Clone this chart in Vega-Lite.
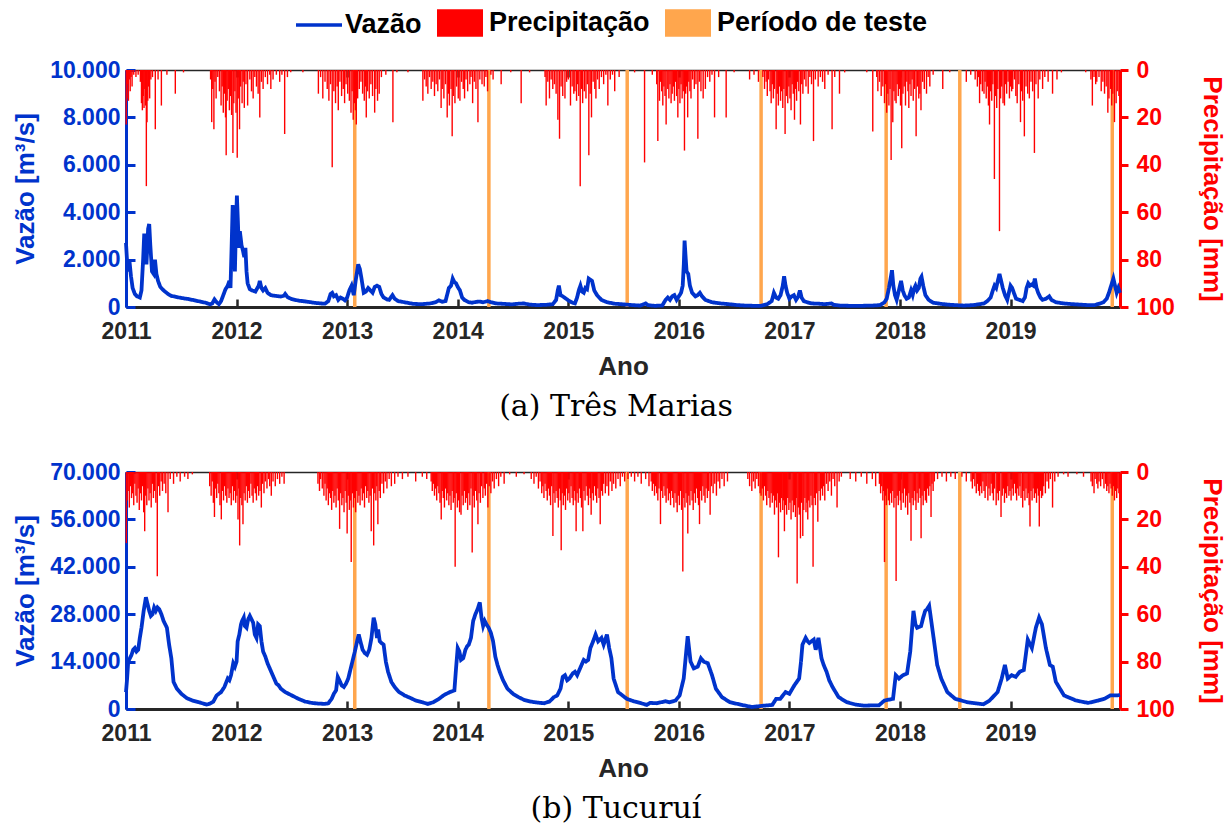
{
"$schema": "https://vega.github.io/schema/vega-lite/v6.json",
"background": "white",
"padding": {"left": 12, "top": 0, "right": 3, "bottom": 2},
"config": {"view": {"stroke": null}, "axis": {"grid": false}, "font": "Liberation Sans"},
"spacing": 39,
"datasets": {
"test": [{"t":2013.069},{"t":2014.282},{"t":2015.533},{"t":2016.744},{"t":2017.875},{"t":2018.541},{"t":2019.92}],
"fa": [
{"t":2011.0,"v":2700},{"t":2011.01,"v":1900},{"t":2011.02,"v":1500},{"t":2011.03,"v":2000},{"t":2011.045,"v":1300},{"t":2011.06,"v":800},{"t":2011.08,"v":550},{"t":2011.1,"v":450},{"t":2011.125,"v":400},{"t":2011.14,"v":700},{"t":2011.155,"v":2000},{"t":2011.165,"v":3100},{"t":2011.175,"v":2600},{"t":2011.185,"v":1800},{"t":2011.2,"v":3300},{"t":2011.21,"v":3500},{"t":2011.22,"v":2600},{"t":2011.235,"v":1500},{"t":2011.25,"v":1400},{"t":2011.262,"v":2000},{"t":2011.275,"v":1400},{"t":2011.29,"v":1100},{"t":2011.31,"v":850},{"t":2011.34,"v":700},{"t":2011.38,"v":550},{"t":2011.41,"v":470},{"t":2011.45,"v":430},{"t":2011.5,"v":380},{"t":2011.56,"v":340},{"t":2011.62,"v":280},{"t":2011.68,"v":220},{"t":2011.72,"v":180},{"t":2011.76,"v":110},{"t":2011.78,"v":150},{"t":2011.8,"v":320},{"t":2011.82,"v":200},{"t":2011.84,"v":120},{"t":2011.86,"v":250},{"t":2011.88,"v":500},{"t":2011.9,"v":750},{"t":2011.92,"v":900},{"t":2011.935,"v":1100},{"t":2011.945,"v":800},{"t":2011.955,"v":2500},{"t":2011.965,"v":4300},{"t":2011.975,"v":3000},{"t":2011.985,"v":1500},{"t":2011.995,"v":3500},{"t":2012.003,"v":4700},{"t":2012.012,"v":3600},{"t":2012.02,"v":2500},{"t":2012.03,"v":3200},{"t":2012.045,"v":2600},{"t":2012.057,"v":2400},{"t":2012.07,"v":2100},{"t":2012.08,"v":2500},{"t":2012.09,"v":1500},{"t":2012.1,"v":1000},{"t":2012.12,"v":750},{"t":2012.14,"v":700},{"t":2012.17,"v":650},{"t":2012.2,"v":900},{"t":2012.21,"v":1100},{"t":2012.225,"v":800},{"t":2012.24,"v":700},{"t":2012.26,"v":800},{"t":2012.28,"v":600},{"t":2012.31,"v":500},{"t":2012.35,"v":470},{"t":2012.4,"v":440},{"t":2012.43,"v":480},{"t":2012.44,"v":550},{"t":2012.46,"v":420},{"t":2012.5,"v":330},{"t":2012.56,"v":270},{"t":2012.63,"v":230},{"t":2012.7,"v":180},{"t":2012.76,"v":150},{"t":2012.8,"v":140},{"t":2012.83,"v":250},{"t":2012.85,"v":550},{"t":2012.865,"v":600},{"t":2012.88,"v":450},{"t":2012.9,"v":500},{"t":2012.92,"v":300},{"t":2012.94,"v":400},{"t":2012.96,"v":350},{"t":2012.98,"v":280},{"t":2013.0,"v":400},{"t":2013.02,"v":700},{"t":2013.04,"v":900},{"t":2013.06,"v":500},{"t":2013.08,"v":1200},{"t":2013.1,"v":1800},{"t":2013.115,"v":1600},{"t":2013.13,"v":1200},{"t":2013.15,"v":600},{"t":2013.17,"v":650},{"t":2013.19,"v":800},{"t":2013.21,"v":700},{"t":2013.23,"v":600},{"t":2013.25,"v":850},{"t":2013.27,"v":900},{"t":2013.29,"v":850},{"t":2013.31,"v":550},{"t":2013.33,"v":400},{"t":2013.36,"v":320},{"t":2013.38,"v":300},{"t":2013.41,"v":500},{"t":2013.43,"v":350},{"t":2013.46,"v":250},{"t":2013.52,"v":200},{"t":2013.6,"v":130},{"t":2013.68,"v":120},{"t":2013.75,"v":150},{"t":2013.8,"v":200},{"t":2013.83,"v":280},{"t":2013.86,"v":220},{"t":2013.89,"v":250},{"t":2013.92,"v":800},{"t":2013.94,"v":900},{"t":2013.955,"v":1200},{"t":2013.97,"v":1050},{"t":2013.985,"v":1000},{"t":2014.0,"v":850},{"t":2014.02,"v":700},{"t":2014.04,"v":400},{"t":2014.06,"v":300},{"t":2014.08,"v":250},{"t":2014.1,"v":200},{"t":2014.13,"v":180},{"t":2014.17,"v":220},{"t":2014.2,"v":230},{"t":2014.23,"v":200},{"t":2014.27,"v":250},{"t":2014.3,"v":200},{"t":2014.35,"v":150},{"t":2014.42,"v":130},{"t":2014.49,"v":110},{"t":2014.55,"v":140},{"t":2014.6,"v":150},{"t":2014.65,"v":100},{"t":2014.72,"v":80},{"t":2014.8,"v":90},{"t":2014.86,"v":120},{"t":2014.89,"v":300},{"t":2014.905,"v":700},{"t":2014.915,"v":900},{"t":2014.93,"v":500},{"t":2014.95,"v":450},{"t":2014.98,"v":350},{"t":2015.01,"v":250},{"t":2015.04,"v":180},{"t":2015.06,"v":150},{"t":2015.08,"v":400},{"t":2015.095,"v":700},{"t":2015.11,"v":900},{"t":2015.125,"v":650},{"t":2015.14,"v":600},{"t":2015.155,"v":800},{"t":2015.17,"v":750},{"t":2015.185,"v":1200},{"t":2015.2,"v":1150},{"t":2015.215,"v":1100},{"t":2015.235,"v":700},{"t":2015.26,"v":500},{"t":2015.3,"v":300},{"t":2015.35,"v":200},{"t":2015.42,"v":140},{"t":2015.5,"v":110},{"t":2015.58,"v":80},{"t":2015.65,"v":60},{"t":2015.7,"v":150},{"t":2015.72,"v":80},{"t":2015.78,"v":50},{"t":2015.85,"v":60},{"t":2015.88,"v":300},{"t":2015.9,"v":400},{"t":2015.92,"v":300},{"t":2015.94,"v":450},{"t":2015.96,"v":500},{"t":2015.98,"v":300},{"t":2016.0,"v":450},{"t":2016.02,"v":600},{"t":2016.035,"v":900},{"t":2016.045,"v":1800},{"t":2016.052,"v":2800},{"t":2016.06,"v":2200},{"t":2016.07,"v":1500},{"t":2016.085,"v":1400},{"t":2016.1,"v":900},{"t":2016.12,"v":600},{"t":2016.15,"v":450},{"t":2016.17,"v":500},{"t":2016.19,"v":600},{"t":2016.21,"v":450},{"t":2016.24,"v":300},{"t":2016.3,"v":200},{"t":2016.38,"v":150},{"t":2016.45,"v":120},{"t":2016.53,"v":80},{"t":2016.6,"v":60},{"t":2016.68,"v":50},{"t":2016.74,"v":50},{"t":2016.8,"v":120},{"t":2016.84,"v":250},{"t":2016.86,"v":600},{"t":2016.88,"v":400},{"t":2016.9,"v":350},{"t":2016.92,"v":500},{"t":2016.94,"v":900},{"t":2016.952,"v":1300},{"t":2016.965,"v":900},{"t":2016.98,"v":600},{"t":2017.0,"v":350},{"t":2017.02,"v":450},{"t":2017.04,"v":500},{"t":2017.06,"v":300},{"t":2017.08,"v":450},{"t":2017.095,"v":700},{"t":2017.11,"v":400},{"t":2017.13,"v":250},{"t":2017.16,"v":200},{"t":2017.2,"v":150},{"t":2017.26,"v":140},{"t":2017.32,"v":120},{"t":2017.38,"v":150},{"t":2017.4,"v":90},{"t":2017.46,"v":60},{"t":2017.55,"v":50},{"t":2017.65,"v":50},{"t":2017.75,"v":60},{"t":2017.82,"v":80},{"t":2017.86,"v":200},{"t":2017.88,"v":350},{"t":2017.9,"v":800},{"t":2017.915,"v":1200},{"t":2017.928,"v":1550},{"t":2017.94,"v":900},{"t":2017.955,"v":500},{"t":2017.97,"v":300},{"t":2017.99,"v":700},{"t":2018.0,"v":900},{"t":2018.01,"v":1100},{"t":2018.025,"v":700},{"t":2018.04,"v":500},{"t":2018.06,"v":350},{"t":2018.08,"v":400},{"t":2018.1,"v":700},{"t":2018.115,"v":500},{"t":2018.13,"v":800},{"t":2018.14,"v":900},{"t":2018.155,"v":700},{"t":2018.17,"v":800},{"t":2018.185,"v":1200},{"t":2018.195,"v":1280},{"t":2018.21,"v":900},{"t":2018.23,"v":500},{"t":2018.26,"v":300},{"t":2018.3,"v":180},{"t":2018.36,"v":140},{"t":2018.43,"v":100},{"t":2018.5,"v":80},{"t":2018.58,"v":60},{"t":2018.66,"v":80},{"t":2018.72,"v":120},{"t":2018.76,"v":150},{"t":2018.79,"v":250},{"t":2018.82,"v":400},{"t":2018.84,"v":700},{"t":2018.855,"v":900},{"t":2018.87,"v":800},{"t":2018.885,"v":1100},{"t":2018.9,"v":1400},{"t":2018.915,"v":1100},{"t":2018.93,"v":800},{"t":2018.95,"v":500},{"t":2018.97,"v":300},{"t":2018.985,"v":600},{"t":2019.0,"v":900},{"t":2019.015,"v":800},{"t":2019.03,"v":600},{"t":2019.05,"v":350},{"t":2019.08,"v":300},{"t":2019.11,"v":250},{"t":2019.13,"v":400},{"t":2019.145,"v":800},{"t":2019.16,"v":1000},{"t":2019.175,"v":900},{"t":2019.19,"v":950},{"t":2019.205,"v":900},{"t":2019.22,"v":1200},{"t":2019.235,"v":800},{"t":2019.25,"v":600},{"t":2019.27,"v":400},{"t":2019.29,"v":300},{"t":2019.32,"v":350},{"t":2019.35,"v":450},{"t":2019.37,"v":300},{"t":2019.41,"v":200},{"t":2019.48,"v":150},{"t":2019.56,"v":120},{"t":2019.63,"v":100},{"t":2019.7,"v":80},{"t":2019.76,"v":80},{"t":2019.81,"v":150},{"t":2019.84,"v":200},{"t":2019.87,"v":350},{"t":2019.89,"v":600},{"t":2019.91,"v":900},{"t":2019.93,"v":1200},{"t":2019.945,"v":900},{"t":2019.96,"v":600},{"t":2019.975,"v":800},{"t":2019.99,"v":600}
],
"fb": [
{"t":2011.0,"v":5000},{"t":2011.01,"v":9000},{"t":2011.02,"v":14000},{"t":2011.035,"v":15000},{"t":2011.05,"v":16000},{"t":2011.065,"v":17500},{"t":2011.08,"v":18000},{"t":2011.095,"v":17000},{"t":2011.11,"v":17500},{"t":2011.125,"v":21000},{"t":2011.14,"v":24000},{"t":2011.16,"v":29000},{"t":2011.18,"v":33000},{"t":2011.195,"v":31000},{"t":2011.21,"v":29000},{"t":2011.225,"v":27500},{"t":2011.24,"v":28000},{"t":2011.255,"v":30000},{"t":2011.27,"v":29000},{"t":2011.285,"v":30000},{"t":2011.3,"v":29500},{"t":2011.32,"v":28000},{"t":2011.34,"v":26000},{"t":2011.37,"v":24000},{"t":2011.39,"v":19000},{"t":2011.41,"v":15000},{"t":2011.43,"v":8000},{"t":2011.46,"v":6000},{"t":2011.5,"v":4500},{"t":2011.55,"v":3200},{"t":2011.6,"v":2500},{"t":2011.66,"v":2000},{"t":2011.7,"v":1600},{"t":2011.73,"v":1300},{"t":2011.76,"v":1600},{"t":2011.79,"v":2200},{"t":2011.82,"v":4000},{"t":2011.86,"v":5000},{"t":2011.89,"v":6500},{"t":2011.92,"v":9000},{"t":2011.935,"v":8500},{"t":2011.95,"v":10000},{"t":2011.97,"v":13500},{"t":2011.985,"v":12500},{"t":2012.0,"v":14000},{"t":2012.01,"v":20000},{"t":2012.025,"v":22000},{"t":2012.04,"v":25000},{"t":2012.05,"v":26000},{"t":2012.065,"v":27000},{"t":2012.075,"v":24500},{"t":2012.09,"v":24000},{"t":2012.105,"v":26500},{"t":2012.12,"v":27500},{"t":2012.135,"v":26500},{"t":2012.15,"v":25500},{"t":2012.165,"v":22000},{"t":2012.18,"v":21000},{"t":2012.195,"v":25000},{"t":2012.21,"v":24500},{"t":2012.225,"v":20000},{"t":2012.24,"v":17000},{"t":2012.26,"v":15500},{"t":2012.28,"v":13500},{"t":2012.3,"v":12000},{"t":2012.32,"v":10500},{"t":2012.34,"v":9000},{"t":2012.36,"v":7500},{"t":2012.38,"v":7000},{"t":2012.4,"v":6000},{"t":2012.44,"v":5000},{"t":2012.5,"v":4000},{"t":2012.56,"v":3000},{"t":2012.62,"v":2200},{"t":2012.68,"v":1800},{"t":2012.74,"v":1600},{"t":2012.8,"v":1500},{"t":2012.83,"v":1700},{"t":2012.86,"v":3000},{"t":2012.88,"v":4500},{"t":2012.9,"v":5500},{"t":2012.915,"v":9500},{"t":2012.93,"v":8500},{"t":2012.95,"v":7000},{"t":2012.97,"v":6500},{"t":2012.99,"v":7500},{"t":2013.01,"v":9000},{"t":2013.04,"v":13000},{"t":2013.07,"v":17000},{"t":2013.09,"v":20000},{"t":2013.105,"v":22000},{"t":2013.12,"v":20000},{"t":2013.14,"v":17500},{"t":2013.16,"v":16500},{"t":2013.18,"v":16000},{"t":2013.2,"v":17500},{"t":2013.22,"v":21000},{"t":2013.24,"v":27000},{"t":2013.255,"v":25000},{"t":2013.27,"v":21000},{"t":2013.28,"v":23500},{"t":2013.295,"v":20000},{"t":2013.31,"v":19500},{"t":2013.33,"v":19000},{"t":2013.35,"v":14000},{"t":2013.37,"v":11000},{"t":2013.4,"v":8000},{"t":2013.43,"v":6500},{"t":2013.47,"v":5000},{"t":2013.52,"v":4000},{"t":2013.57,"v":3300},{"t":2013.62,"v":2500},{"t":2013.68,"v":2000},{"t":2013.73,"v":1500},{"t":2013.78,"v":2000},{"t":2013.83,"v":3000},{"t":2013.88,"v":4200},{"t":2013.93,"v":5000},{"t":2013.97,"v":5500},{"t":2013.985,"v":12000},{"t":2014.0,"v":18000},{"t":2014.015,"v":17000},{"t":2014.03,"v":14500},{"t":2014.05,"v":15000},{"t":2014.07,"v":17500},{"t":2014.085,"v":18500},{"t":2014.1,"v":19000},{"t":2014.12,"v":21000},{"t":2014.14,"v":26000},{"t":2014.16,"v":28000},{"t":2014.18,"v":29500},{"t":2014.2,"v":31500},{"t":2014.215,"v":27000},{"t":2014.23,"v":24500},{"t":2014.245,"v":26000},{"t":2014.26,"v":25000},{"t":2014.28,"v":24000},{"t":2014.3,"v":22500},{"t":2014.32,"v":20000},{"t":2014.34,"v":15500},{"t":2014.36,"v":13000},{"t":2014.38,"v":11000},{"t":2014.41,"v":8500},{"t":2014.45,"v":6000},{"t":2014.5,"v":4500},{"t":2014.55,"v":3500},{"t":2014.6,"v":2700},{"t":2014.66,"v":2200},{"t":2014.72,"v":1900},{"t":2014.78,"v":1700},{"t":2014.83,"v":2200},{"t":2014.87,"v":3500},{"t":2014.9,"v":4000},{"t":2014.93,"v":6000},{"t":2014.95,"v":9500},{"t":2014.97,"v":10000},{"t":2014.99,"v":8500},{"t":2015.01,"v":9000},{"t":2015.04,"v":10500},{"t":2015.06,"v":11000},{"t":2015.08,"v":10000},{"t":2015.1,"v":11500},{"t":2015.12,"v":13000},{"t":2015.14,"v":14500},{"t":2015.16,"v":14000},{"t":2015.18,"v":14500},{"t":2015.2,"v":18000},{"t":2015.225,"v":20000},{"t":2015.247,"v":22000},{"t":2015.27,"v":20000},{"t":2015.3,"v":21000},{"t":2015.32,"v":19000},{"t":2015.35,"v":22000},{"t":2015.37,"v":18000},{"t":2015.39,"v":15000},{"t":2015.41,"v":9000},{"t":2015.45,"v":5000},{"t":2015.53,"v":3000},{"t":2015.6,"v":2200},{"t":2015.66,"v":1700},{"t":2015.71,"v":1200},{"t":2015.74,"v":1800},{"t":2015.8,"v":1700},{"t":2015.88,"v":2300},{"t":2015.916,"v":2000},{"t":2015.97,"v":2500},{"t":2016.007,"v":4000},{"t":2016.044,"v":9000},{"t":2016.08,"v":21500},{"t":2016.106,"v":14000},{"t":2016.135,"v":12000},{"t":2016.171,"v":12500},{"t":2016.2,"v":15000},{"t":2016.226,"v":14000},{"t":2016.262,"v":13500},{"t":2016.3,"v":10000},{"t":2016.335,"v":6000},{"t":2016.39,"v":3500},{"t":2016.462,"v":2000},{"t":2016.57,"v":1200},{"t":2016.66,"v":600},{"t":2016.717,"v":800},{"t":2016.772,"v":1000},{"t":2016.845,"v":1200},{"t":2016.88,"v":3000},{"t":2016.917,"v":3000},{"t":2016.965,"v":5000},{"t":2017.0,"v":4500},{"t":2017.045,"v":7000},{"t":2017.088,"v":9000},{"t":2017.105,"v":14000},{"t":2017.118,"v":19000},{"t":2017.147,"v":21000},{"t":2017.165,"v":20000},{"t":2017.18,"v":19500},{"t":2017.2,"v":20000},{"t":2017.22,"v":20500},{"t":2017.238,"v":17500},{"t":2017.263,"v":21000},{"t":2017.29,"v":15000},{"t":2017.31,"v":13000},{"t":2017.336,"v":11000},{"t":2017.36,"v":8500},{"t":2017.39,"v":6500},{"t":2017.445,"v":3500},{"t":2017.52,"v":2000},{"t":2017.6,"v":1300},{"t":2017.67,"v":1000},{"t":2017.81,"v":1100},{"t":2017.86,"v":2500},{"t":2017.937,"v":3000},{"t":2017.962,"v":10000},{"t":2017.991,"v":9000},{"t":2018.028,"v":10000},{"t":2018.064,"v":10500},{"t":2018.093,"v":17000},{"t":2018.122,"v":29000},{"t":2018.14,"v":25000},{"t":2018.155,"v":24000},{"t":2018.191,"v":24500},{"t":2018.21,"v":27000},{"t":2018.228,"v":29000},{"t":2018.245,"v":29500},{"t":2018.264,"v":30500},{"t":2018.3,"v":22000},{"t":2018.337,"v":13000},{"t":2018.373,"v":9000},{"t":2018.428,"v":5000},{"t":2018.5,"v":3000},{"t":2018.61,"v":2000},{"t":2018.756,"v":1400},{"t":2018.81,"v":2500},{"t":2018.883,"v":5000},{"t":2018.92,"v":9000},{"t":2018.949,"v":13000},{"t":2018.975,"v":9000},{"t":2019.01,"v":10000},{"t":2019.047,"v":9500},{"t":2019.083,"v":11000},{"t":2019.12,"v":11500},{"t":2019.156,"v":20500},{"t":2019.193,"v":18000},{"t":2019.229,"v":24000},{"t":2019.258,"v":27000},{"t":2019.284,"v":25000},{"t":2019.32,"v":18000},{"t":2019.356,"v":13000},{"t":2019.382,"v":12500},{"t":2019.41,"v":8000},{"t":2019.484,"v":4000},{"t":2019.593,"v":2500},{"t":2019.702,"v":1800},{"t":2019.793,"v":2500},{"t":2019.848,"v":3000},{"t":2019.902,"v":4000},{"t":2019.968,"v":4000},{"t":2019.99,"v":4200}
],
"pa": [
{"t":2011.002,"p":23},{"t":2011.008,"p":12},{"t":2011.015,"p":6},{"t":2011.022,"p":13},{"t":2011.03,"p":4},{"t":2011.038,"p":9},{"t":2011.046,"p":3},{"t":2011.055,"p":7},{"t":2011.07,"p":2},{"t":2011.09,"p":3},{"t":2011.11,"p":2},{"t":2011.13,"p":5},{"t":2011.14,"p":14},{"t":2011.148,"p":17},{"t":2011.156,"p":11},{"t":2011.163,"p":16},{"t":2011.17,"p":8},{"t":2011.177,"p":15},{"t":2011.184,"p":49},{"t":2011.19,"p":22},{"t":2011.197,"p":13},{"t":2011.205,"p":7},{"t":2011.214,"p":12},{"t":2011.225,"p":4},{"t":2011.24,"p":3},{"t":2011.265,"p":25},{"t":2011.29,"p":4},{"t":2011.32,"p":15},{"t":2011.37,"p":2},{"t":2011.446,"p":10},{"t":2011.52,"p":1},
{"t":2011.765,"p":4},{"t":2011.775,"p":22},{"t":2011.785,"p":8},{"t":2011.795,"p":25},{"t":2011.805,"p":5},{"t":2011.815,"p":12},{"t":2011.83,"p":3},{"t":2011.845,"p":9},{"t":2011.86,"p":15},{"t":2011.87,"p":7},{"t":2011.88,"p":18},{"t":2011.89,"p":10},{"t":2011.9,"p":20},{"t":2011.906,"p":36},{"t":2011.915,"p":13},{"t":2011.925,"p":8},{"t":2011.935,"p":17},{"t":2011.945,"p":11},{"t":2011.955,"p":19},{"t":2011.967,"p":35},{"t":2011.975,"p":14},{"t":2011.985,"p":9},{"t":2011.995,"p":18},{"t":2012.006,"p":37},{"t":2012.015,"p":12},{"t":2012.027,"p":25},{"t":2012.037,"p":7},{"t":2012.05,"p":14},{"t":2012.06,"p":5},{"t":2012.07,"p":16},{"t":2012.085,"p":6},{"t":2012.1,"p":15},{"t":2012.12,"p":4},{"t":2012.135,"p":9},{"t":2012.15,"p":12},{"t":2012.165,"p":3},{"t":2012.18,"p":7},{"t":2012.195,"p":10},{"t":2012.21,"p":20},{"t":2012.225,"p":5},{"t":2012.24,"p":8},{"t":2012.26,"p":3},{"t":2012.28,"p":6},{"t":2012.3,"p":2},{"t":2012.31,"p":8},{"t":2012.33,"p":4},{"t":2012.36,"p":2},{"t":2012.39,"p":5},{"t":2012.41,"p":2},{"t":2012.435,"p":27},{"t":2012.46,"p":3},{"t":2012.49,"p":1},{"t":2012.6,"p":1},
{"t":2012.74,"p":10},{"t":2012.76,"p":3},{"t":2012.78,"p":12},{"t":2012.8,"p":5},{"t":2012.82,"p":8},{"t":2012.835,"p":13},{"t":2012.85,"p":6},{"t":2012.865,"p":41},{"t":2012.88,"p":9},{"t":2012.895,"p":14},{"t":2012.91,"p":7},{"t":2012.92,"p":17},{"t":2012.935,"p":5},{"t":2012.95,"p":11},{"t":2012.965,"p":8},{"t":2012.977,"p":14},{"t":2012.99,"p":6},{"t":2013.005,"p":10},{"t":2013.02,"p":13},{"t":2013.035,"p":18},{"t":2013.045,"p":9},{"t":2013.055,"p":21},{"t":2013.065,"p":14},{"t":2013.075,"p":17},{"t":2013.083,"p":23},{"t":2013.095,"p":12},{"t":2013.11,"p":8},{"t":2013.125,"p":5},{"t":2013.14,"p":10},{"t":2013.155,"p":13},{"t":2013.165,"p":7},{"t":2013.173,"p":20},{"t":2013.185,"p":9},{"t":2013.2,"p":12},{"t":2013.215,"p":6},{"t":2013.23,"p":11},{"t":2013.249,"p":18},{"t":2013.26,"p":8},{"t":2013.275,"p":13},{"t":2013.29,"p":10},{"t":2013.31,"p":3},{"t":2013.35,"p":2},{"t":2013.414,"p":22},{"t":2013.45,"p":1},{"t":2013.55,"p":1},
{"t":2013.685,"p":13},{"t":2013.7,"p":4},{"t":2013.715,"p":7},{"t":2013.73,"p":10},{"t":2013.745,"p":3},{"t":2013.76,"p":8},{"t":2013.775,"p":5},{"t":2013.79,"p":11},{"t":2013.805,"p":6},{"t":2013.82,"p":9},{"t":2013.835,"p":4},{"t":2013.85,"p":16},{"t":2013.86,"p":8},{"t":2013.875,"p":12},{"t":2013.89,"p":6},{"t":2013.905,"p":20},{"t":2013.915,"p":10},{"t":2013.925,"p":15},{"t":2013.94,"p":8},{"t":2013.95,"p":28},{"t":2013.96,"p":11},{"t":2013.975,"p":14},{"t":2013.99,"p":7},{"t":2014.005,"p":12},{"t":2014.02,"p":13},{"t":2014.035,"p":5},{"t":2014.05,"p":8},{"t":2014.062,"p":12},{"t":2014.075,"p":4},{"t":2014.09,"p":9},{"t":2014.11,"p":6},{"t":2014.12,"p":3},{"t":2014.135,"p":14},{"t":2014.15,"p":5},{"t":2014.165,"p":8},{"t":2014.183,"p":22},{"t":2014.2,"p":4},{"t":2014.22,"p":6},{"t":2014.24,"p":7},{"t":2014.255,"p":3},{"t":2014.27,"p":9},{"t":2014.3,"p":2},{"t":2014.32,"p":4},{"t":2014.393,"p":6},{"t":2014.48,"p":1},{"t":2014.574,"p":14},{"t":2014.65,"p":1},
{"t":2014.79,"p":3},{"t":2014.8,"p":15},{"t":2014.815,"p":5},{"t":2014.83,"p":12},{"t":2014.845,"p":4},{"t":2014.86,"p":8},{"t":2014.875,"p":6},{"t":2014.89,"p":10},{"t":2014.906,"p":21},{"t":2014.921,"p":29},{"t":2014.935,"p":7},{"t":2014.95,"p":11},{"t":2014.97,"p":12},{"t":2014.985,"p":5},{"t":2015.0,"p":4},{"t":2015.02,"p":15},{"t":2015.035,"p":7},{"t":2015.05,"p":10},{"t":2015.06,"p":9},{"t":2015.075,"p":13},{"t":2015.085,"p":6},{"t":2015.095,"p":11},{"t":2015.108,"p":49},{"t":2015.12,"p":8},{"t":2015.13,"p":14},{"t":2015.145,"p":9},{"t":2015.16,"p":12},{"t":2015.172,"p":6},{"t":2015.186,"p":36},{"t":2015.198,"p":10},{"t":2015.21,"p":20},{"t":2015.225,"p":5},{"t":2015.24,"p":8},{"t":2015.25,"p":12},{"t":2015.265,"p":4},{"t":2015.28,"p":8},{"t":2015.3,"p":3},{"t":2015.32,"p":6},{"t":2015.34,"p":2},{"t":2015.358,"p":15},{"t":2015.38,"p":4},{"t":2015.4,"p":2},{"t":2015.42,"p":9},{"t":2015.46,"p":3},
{"t":2015.6,"p":1},{"t":2015.69,"p":39},{"t":2015.76,"p":2},{"t":2015.8,"p":6},{"t":2015.81,"p":30},{"t":2015.825,"p":13},{"t":2015.835,"p":5},{"t":2015.845,"p":9},{"t":2015.855,"p":15},{"t":2015.865,"p":7},{"t":2015.875,"p":11},{"t":2015.885,"p":23},{"t":2015.9,"p":8},{"t":2015.91,"p":12},{"t":2015.92,"p":6},{"t":2015.93,"p":14},{"t":2015.94,"p":10},{"t":2015.95,"p":7},{"t":2015.96,"p":13},{"t":2015.97,"p":5},{"t":2015.98,"p":11},{"t":2015.991,"p":20},{"t":2016.0,"p":8},{"t":2016.01,"p":14},{"t":2016.02,"p":6},{"t":2016.03,"p":12},{"t":2016.04,"p":9},{"t":2016.051,"p":34},{"t":2016.062,"p":10},{"t":2016.07,"p":7},{"t":2016.08,"p":20},{"t":2016.09,"p":5},{"t":2016.1,"p":9},{"t":2016.11,"p":12},{"t":2016.125,"p":4},{"t":2016.14,"p":8},{"t":2016.155,"p":6},{"t":2016.172,"p":29},{"t":2016.185,"p":5},{"t":2016.2,"p":9},{"t":2016.22,"p":12},{"t":2016.24,"p":8},{"t":2016.26,"p":3},{"t":2016.28,"p":5},{"t":2016.3,"p":2},{"t":2016.323,"p":20},{"t":2016.36,"p":3},{"t":2016.428,"p":20},{"t":2016.5,"p":1},
{"t":2016.64,"p":4},{"t":2016.68,"p":2},{"t":2016.72,"p":5},{"t":2016.76,"p":3},{"t":2016.775,"p":8},{"t":2016.79,"p":5},{"t":2016.8,"p":11},{"t":2016.81,"p":4},{"t":2016.825,"p":9},{"t":2016.835,"p":14},{"t":2016.845,"p":6},{"t":2016.855,"p":12},{"t":2016.865,"p":8},{"t":2016.88,"p":25},{"t":2016.89,"p":10},{"t":2016.9,"p":15},{"t":2016.91,"p":7},{"t":2016.92,"p":13},{"t":2016.93,"p":9},{"t":2016.94,"p":16},{"t":2016.95,"p":8},{"t":2016.961,"p":27},{"t":2016.972,"p":11},{"t":2016.985,"p":14},{"t":2016.995,"p":7},{"t":2017.005,"p":12},{"t":2017.015,"p":17},{"t":2017.025,"p":6},{"t":2017.035,"p":10},{"t":2017.046,"p":21},{"t":2017.055,"p":8},{"t":2017.065,"p":13},{"t":2017.075,"p":5},{"t":2017.085,"p":9},{"t":2017.1,"p":23},{"t":2017.112,"p":6},{"t":2017.122,"p":10},{"t":2017.135,"p":4},{"t":2017.15,"p":7},{"t":2017.17,"p":10},{"t":2017.185,"p":3},{"t":2017.2,"p":6},{"t":2017.218,"p":30},{"t":2017.235,"p":4},{"t":2017.26,"p":7},{"t":2017.28,"p":3},{"t":2017.3,"p":5},{"t":2017.32,"p":8},{"t":2017.35,"p":2},{"t":2017.386,"p":25},{"t":2017.41,"p":3},{"t":2017.453,"p":10},{"t":2017.5,"p":1},
{"t":2017.7,"p":1},{"t":2017.754,"p":26},{"t":2017.79,"p":3},{"t":2017.8,"p":9},{"t":2017.815,"p":5},{"t":2017.83,"p":11},{"t":2017.845,"p":7},{"t":2017.86,"p":14},{"t":2017.87,"p":6},{"t":2017.88,"p":18},{"t":2017.89,"p":10},{"t":2017.9,"p":15},{"t":2017.91,"p":8},{"t":2017.92,"p":38},{"t":2017.935,"p":22},{"t":2017.945,"p":9},{"t":2017.955,"p":13},{"t":2017.965,"p":14},{"t":2017.975,"p":6},{"t":2017.985,"p":11},{"t":2017.995,"p":8},{"t":2018.005,"p":15},{"t":2018.016,"p":33},{"t":2018.027,"p":10},{"t":2018.038,"p":7},{"t":2018.05,"p":15},{"t":2018.062,"p":5},{"t":2018.072,"p":9},{"t":2018.08,"p":16},{"t":2018.09,"p":6},{"t":2018.1,"p":11},{"t":2018.11,"p":4},{"t":2018.12,"p":13},{"t":2018.133,"p":8},{"t":2018.146,"p":28},{"t":2018.158,"p":7},{"t":2018.17,"p":12},{"t":2018.18,"p":10},{"t":2018.19,"p":17},{"t":2018.205,"p":5},{"t":2018.22,"p":8},{"t":2018.24,"p":10},{"t":2018.255,"p":3},{"t":2018.27,"p":7},{"t":2018.3,"p":2},{"t":2018.387,"p":8},{"t":2018.45,"p":1},
{"t":2018.6,"p":5},{"t":2018.64,"p":2},{"t":2018.68,"p":4},{"t":2018.7,"p":7},{"t":2018.71,"p":3},{"t":2018.72,"p":14},{"t":2018.73,"p":6},{"t":2018.745,"p":9},{"t":2018.76,"p":10},{"t":2018.77,"p":5},{"t":2018.78,"p":12},{"t":2018.79,"p":7},{"t":2018.8,"p":15},{"t":2018.81,"p":23},{"t":2018.82,"p":9},{"t":2018.83,"p":13},{"t":2018.84,"p":6},{"t":2018.854,"p":46},{"t":2018.865,"p":11},{"t":2018.875,"p":16},{"t":2018.885,"p":8},{"t":2018.9,"p":68},{"t":2018.91,"p":12},{"t":2018.92,"p":7},{"t":2018.932,"p":14},{"t":2018.945,"p":15},{"t":2018.955,"p":6},{"t":2018.965,"p":10},{"t":2018.978,"p":5},{"t":2018.99,"p":12},{"t":2019.0,"p":7},{"t":2019.01,"p":9},{"t":2019.02,"p":8},{"t":2019.035,"p":4},{"t":2019.048,"p":11},{"t":2019.06,"p":14},{"t":2019.075,"p":6},{"t":2019.09,"p":22},{"t":2019.1,"p":9},{"t":2019.11,"p":13},{"t":2019.125,"p":28},{"t":2019.14,"p":7},{"t":2019.155,"p":10},{"t":2019.17,"p":12},{"t":2019.185,"p":5},{"t":2019.2,"p":9},{"t":2019.216,"p":35},{"t":2019.23,"p":6},{"t":2019.25,"p":12},{"t":2019.265,"p":4},{"t":2019.29,"p":8},{"t":2019.31,"p":3},{"t":2019.34,"p":5},{"t":2019.38,"p":10},{"t":2019.42,"p":4},{"t":2019.46,"p":1},
{"t":2019.68,"p":1},{"t":2019.727,"p":4},{"t":2019.74,"p":15},{"t":2019.755,"p":3},{"t":2019.77,"p":6},{"t":2019.78,"p":5},{"t":2019.8,"p":3},{"t":2019.82,"p":9},{"t":2019.835,"p":5},{"t":2019.85,"p":10},{"t":2019.865,"p":7},{"t":2019.88,"p":18},{"t":2019.89,"p":12},{"t":2019.905,"p":8},{"t":2019.915,"p":15},{"t":2019.925,"p":10},{"t":2019.94,"p":22},{"t":2019.955,"p":14},{"t":2019.965,"p":9},{"t":2019.98,"p":11}
],
"pb": [
{"t":2011.003,"p":30},{"t":2011.01,"p":12},{"t":2011.02,"p":8},{"t":2011.03,"p":15},{"t":2011.04,"p":6},{"t":2011.05,"p":11},{"t":2011.06,"p":9},{"t":2011.07,"p":14},{"t":2011.08,"p":5},{"t":2011.09,"p":10},{"t":2011.1,"p":13},{"t":2011.11,"p":7},{"t":2011.12,"p":16},{"t":2011.13,"p":9},{"t":2011.14,"p":12},{"t":2011.15,"p":6},{"t":2011.16,"p":17},{"t":2011.169,"p":25},{"t":2011.178,"p":10},{"t":2011.188,"p":14},{"t":2011.198,"p":7},{"t":2011.208,"p":12},{"t":2011.218,"p":9},{"t":2011.228,"p":15},{"t":2011.238,"p":5},{"t":2011.248,"p":11},{"t":2011.258,"p":8},{"t":2011.27,"p":13},{"t":2011.283,"p":44},{"t":2011.295,"p":6},{"t":2011.305,"p":10},{"t":2011.318,"p":4},{"t":2011.33,"p":8},{"t":2011.345,"p":5},{"t":2011.36,"p":9},{"t":2011.38,"p":17},{"t":2011.4,"p":3},{"t":2011.43,"p":5},{"t":2011.46,"p":2},{"t":2011.49,"p":4},{"t":2011.53,"p":2},{"t":2011.56,"p":3},{"t":2011.6,"p":1},
{"t":2011.757,"p":6},{"t":2011.77,"p":10},{"t":2011.78,"p":4},{"t":2011.79,"p":13},{"t":2011.8,"p":19},{"t":2011.81,"p":7},{"t":2011.82,"p":11},{"t":2011.83,"p":5},{"t":2011.84,"p":9},{"t":2011.85,"p":14},{"t":2011.862,"p":20},{"t":2011.872,"p":8},{"t":2011.882,"p":12},{"t":2011.892,"p":6},{"t":2011.902,"p":10},{"t":2011.912,"p":13},{"t":2011.922,"p":7},{"t":2011.932,"p":11},{"t":2011.942,"p":9},{"t":2011.952,"p":14},{"t":2011.962,"p":6},{"t":2011.972,"p":12},{"t":2011.982,"p":8},{"t":2011.992,"p":13},{"t":2012.003,"p":10},{"t":2012.013,"p":20},{"t":2012.02,"p":7},{"t":2012.028,"p":31},{"t":2012.038,"p":11},{"t":2012.048,"p":14},{"t":2012.058,"p":22},{"t":2012.068,"p":9},{"t":2012.078,"p":12},{"t":2012.088,"p":6},{"t":2012.098,"p":13},{"t":2012.108,"p":8},{"t":2012.118,"p":11},{"t":2012.13,"p":5},{"t":2012.14,"p":10},{"t":2012.15,"p":13},{"t":2012.16,"p":7},{"t":2012.17,"p":9},{"t":2012.18,"p":12},{"t":2012.19,"p":6},{"t":2012.2,"p":10},{"t":2012.212,"p":8},{"t":2012.224,"p":15},{"t":2012.235,"p":5},{"t":2012.248,"p":9},{"t":2012.26,"p":4},{"t":2012.275,"p":7},{"t":2012.29,"p":3},{"t":2012.3,"p":6},{"t":2012.314,"p":10},{"t":2012.33,"p":4},{"t":2012.35,"p":6},{"t":2012.37,"p":3},{"t":2012.39,"p":5},{"t":2012.41,"p":2},{"t":2012.43,"p":5},
{"t":2012.736,"p":5},{"t":2012.75,"p":8},{"t":2012.76,"p":3},{"t":2012.775,"p":7},{"t":2012.79,"p":10},{"t":2012.8,"p":5},{"t":2012.81,"p":12},{"t":2012.82,"p":7},{"t":2012.83,"p":14},{"t":2012.84,"p":9},{"t":2012.85,"p":11},{"t":2012.86,"p":16},{"t":2012.87,"p":8},{"t":2012.88,"p":13},{"t":2012.89,"p":10},{"t":2012.9,"p":15},{"t":2012.91,"p":7},{"t":2012.92,"p":12},{"t":2012.932,"p":24},{"t":2012.942,"p":9},{"t":2012.952,"p":14},{"t":2012.962,"p":11},{"t":2012.972,"p":17},{"t":2012.982,"p":8},{"t":2012.992,"p":13},{"t":2013.0,"p":26},{"t":2013.01,"p":10},{"t":2013.02,"p":16},{"t":2013.028,"p":12},{"t":2013.037,"p":38},{"t":2013.047,"p":9},{"t":2013.057,"p":15},{"t":2013.067,"p":11},{"t":2013.077,"p":17},{"t":2013.087,"p":8},{"t":2013.097,"p":13},{"t":2013.107,"p":10},{"t":2013.117,"p":14},{"t":2013.127,"p":7},{"t":2013.137,"p":12},{"t":2013.147,"p":9},{"t":2013.157,"p":15},{"t":2013.167,"p":6},{"t":2013.177,"p":11},{"t":2013.187,"p":8},{"t":2013.197,"p":13},{"t":2013.208,"p":10},{"t":2013.218,"p":25},{"t":2013.228,"p":7},{"t":2013.24,"p":31},{"t":2013.25,"p":9},{"t":2013.26,"p":12},{"t":2013.268,"p":6},{"t":2013.278,"p":22},{"t":2013.29,"p":8},{"t":2013.3,"p":11},{"t":2013.315,"p":5},{"t":2013.33,"p":9},{"t":2013.345,"p":4},{"t":2013.36,"p":7},{"t":2013.38,"p":3},{"t":2013.4,"p":6},{"t":2013.43,"p":5},{"t":2013.46,"p":2},{"t":2013.5,"p":3},{"t":2013.55,"p":2},{"t":2013.62,"p":4},{"t":2013.68,"p":2},{"t":2013.72,"p":3},
{"t":2013.76,"p":4},{"t":2013.77,"p":8},{"t":2013.78,"p":5},{"t":2013.79,"p":10},{"t":2013.8,"p":7},{"t":2013.81,"p":12},{"t":2013.82,"p":6},{"t":2013.83,"p":9},{"t":2013.84,"p":13},{"t":2013.851,"p":20},{"t":2013.86,"p":8},{"t":2013.87,"p":11},{"t":2013.88,"p":15},{"t":2013.89,"p":7},{"t":2013.9,"p":12},{"t":2013.91,"p":9},{"t":2013.92,"p":14},{"t":2013.93,"p":10},{"t":2013.94,"p":16},{"t":2013.95,"p":8},{"t":2013.96,"p":13},{"t":2013.968,"p":11},{"t":2013.977,"p":40},{"t":2013.987,"p":9},{"t":2013.997,"p":15},{"t":2014.007,"p":12},{"t":2014.017,"p":17},{"t":2014.03,"p":18},{"t":2014.04,"p":10},{"t":2014.05,"p":14},{"t":2014.06,"p":8},{"t":2014.07,"p":13},{"t":2014.08,"p":11},{"t":2014.09,"p":16},{"t":2014.1,"p":9},{"t":2014.11,"p":14},{"t":2014.12,"p":7},{"t":2014.131,"p":34},{"t":2014.14,"p":10},{"t":2014.15,"p":15},{"t":2014.16,"p":8},{"t":2014.172,"p":12},{"t":2014.183,"p":22},{"t":2014.193,"p":9},{"t":2014.205,"p":13},{"t":2014.215,"p":6},{"t":2014.228,"p":11},{"t":2014.24,"p":7},{"t":2014.25,"p":10},{"t":2014.262,"p":5},{"t":2014.273,"p":15},{"t":2014.285,"p":6},{"t":2014.3,"p":9},{"t":2014.315,"p":4},{"t":2014.33,"p":7},{"t":2014.35,"p":3},{"t":2014.37,"p":6},{"t":2014.39,"p":2},{"t":2014.42,"p":5},{"t":2014.47,"p":1},{"t":2014.53,"p":2},{"t":2014.6,"p":1},
{"t":2014.665,"p":3},{"t":2014.69,"p":5},{"t":2014.71,"p":2},{"t":2014.73,"p":7},{"t":2014.745,"p":4},{"t":2014.76,"p":9},{"t":2014.77,"p":6},{"t":2014.78,"p":11},{"t":2014.79,"p":5},{"t":2014.8,"p":8},{"t":2014.81,"p":12},{"t":2014.82,"p":7},{"t":2014.83,"p":10},{"t":2014.84,"p":14},{"t":2014.85,"p":6},{"t":2014.861,"p":27},{"t":2014.87,"p":9},{"t":2014.88,"p":13},{"t":2014.89,"p":8},{"t":2014.9,"p":11},{"t":2014.91,"p":15},{"t":2014.92,"p":7},{"t":2014.928,"p":12},{"t":2014.936,"p":33},{"t":2014.945,"p":9},{"t":2014.955,"p":14},{"t":2014.965,"p":10},{"t":2014.975,"p":16},{"t":2014.985,"p":7},{"t":2014.995,"p":12},{"t":2015.005,"p":9},{"t":2015.015,"p":13},{"t":2015.025,"p":6},{"t":2015.035,"p":11},{"t":2015.045,"p":14},{"t":2015.055,"p":8},{"t":2015.063,"p":12},{"t":2015.071,"p":25},{"t":2015.08,"p":9},{"t":2015.09,"p":13},{"t":2015.1,"p":7},{"t":2015.11,"p":11},{"t":2015.12,"p":15},{"t":2015.132,"p":25},{"t":2015.142,"p":8},{"t":2015.152,"p":12},{"t":2015.162,"p":6},{"t":2015.172,"p":10},{"t":2015.182,"p":14},{"t":2015.192,"p":7},{"t":2015.2,"p":11},{"t":2015.207,"p":18},{"t":2015.217,"p":9},{"t":2015.227,"p":12},{"t":2015.237,"p":6},{"t":2015.247,"p":10},{"t":2015.257,"p":13},{"t":2015.267,"p":7},{"t":2015.278,"p":11},{"t":2015.289,"p":22},{"t":2015.3,"p":8},{"t":2015.31,"p":10},{"t":2015.32,"p":5},{"t":2015.335,"p":9},{"t":2015.35,"p":6},{"t":2015.365,"p":10},{"t":2015.38,"p":4},{"t":2015.395,"p":8},{"t":2015.41,"p":5},{"t":2015.43,"p":7},{"t":2015.45,"p":3},{"t":2015.47,"p":6},{"t":2015.49,"p":2},{"t":2015.51,"p":4},
{"t":2015.54,"p":3},{"t":2015.57,"p":2},{"t":2015.6,"p":4},{"t":2015.63,"p":2},{"t":2015.66,"p":5},{"t":2015.7,"p":3},{"t":2015.73,"p":6},{"t":2015.75,"p":4},{"t":2015.76,"p":8},{"t":2015.77,"p":5},{"t":2015.78,"p":10},{"t":2015.79,"p":6},{"t":2015.8,"p":9},{"t":2015.81,"p":12},{"t":2015.82,"p":7},{"t":2015.834,"p":22},{"t":2015.845,"p":8},{"t":2015.855,"p":11},{"t":2015.865,"p":6},{"t":2015.875,"p":10},{"t":2015.885,"p":13},{"t":2015.895,"p":7},{"t":2015.905,"p":12},{"t":2015.915,"p":9},{"t":2015.925,"p":14},{"t":2015.935,"p":8},{"t":2015.945,"p":11},{"t":2015.955,"p":15},{"t":2015.965,"p":9},{"t":2015.975,"p":13},{"t":2015.985,"p":17},{"t":2015.995,"p":10},{"t":2016.005,"p":14},{"t":2016.015,"p":8},{"t":2016.025,"p":16},{"t":2016.036,"p":42},{"t":2016.045,"p":11},{"t":2016.055,"p":15},{"t":2016.065,"p":9},{"t":2016.073,"p":13},{"t":2016.081,"p":26},{"t":2016.09,"p":10},{"t":2016.1,"p":14},{"t":2016.11,"p":8},{"t":2016.12,"p":12},{"t":2016.13,"p":16},{"t":2016.14,"p":9},{"t":2016.15,"p":13},{"t":2016.16,"p":7},{"t":2016.17,"p":11},{"t":2016.178,"p":14},{"t":2016.187,"p":22},{"t":2016.197,"p":8},{"t":2016.207,"p":12},{"t":2016.217,"p":6},{"t":2016.227,"p":10},{"t":2016.237,"p":13},{"t":2016.247,"p":7},{"t":2016.258,"p":11},{"t":2016.27,"p":8},{"t":2016.283,"p":18},{"t":2016.295,"p":6},{"t":2016.31,"p":9},{"t":2016.325,"p":5},{"t":2016.34,"p":10},{"t":2016.355,"p":4},{"t":2016.37,"p":7},{"t":2016.39,"p":3},{"t":2016.41,"p":6},{"t":2016.44,"p":4},
{"t":2016.624,"p":3},{"t":2016.64,"p":6},{"t":2016.66,"p":8},{"t":2016.675,"p":4},{"t":2016.69,"p":7},{"t":2016.705,"p":3},{"t":2016.72,"p":6},{"t":2016.735,"p":9},{"t":2016.744,"p":10},{"t":2016.755,"p":7},{"t":2016.765,"p":12},{"t":2016.775,"p":6},{"t":2016.785,"p":10},{"t":2016.795,"p":14},{"t":2016.805,"p":8},{"t":2016.815,"p":11},{"t":2016.825,"p":15},{"t":2016.835,"p":9},{"t":2016.845,"p":13},{"t":2016.855,"p":10},{"t":2016.865,"p":18},{"t":2016.875,"p":12},{"t":2016.885,"p":15},{"t":2016.893,"p":9},{"t":2016.901,"p":36},{"t":2016.91,"p":13},{"t":2016.92,"p":17},{"t":2016.93,"p":11},{"t":2016.94,"p":16},{"t":2016.947,"p":12},{"t":2016.955,"p":25},{"t":2016.965,"p":14},{"t":2016.975,"p":18},{"t":2016.985,"p":11},{"t":2016.995,"p":16},{"t":2017.005,"p":13},{"t":2017.015,"p":20},{"t":2017.025,"p":12},{"t":2017.035,"p":17},{"t":2017.045,"p":14},{"t":2017.055,"p":19},{"t":2017.062,"p":11},{"t":2017.07,"p":47},{"t":2017.08,"p":15},{"t":2017.09,"p":18},{"t":2017.1,"p":28},{"t":2017.11,"p":13},{"t":2017.121,"p":27},{"t":2017.13,"p":16},{"t":2017.14,"p":11},{"t":2017.15,"p":17},{"t":2017.158,"p":13},{"t":2017.166,"p":20},{"t":2017.175,"p":12},{"t":2017.185,"p":15},{"t":2017.195,"p":10},{"t":2017.205,"p":14},{"t":2017.214,"p":40},{"t":2017.225,"p":11},{"t":2017.235,"p":14},{"t":2017.245,"p":9},{"t":2017.257,"p":21},{"t":2017.268,"p":8},{"t":2017.28,"p":12},{"t":2017.29,"p":7},{"t":2017.3,"p":10},{"t":2017.31,"p":6},{"t":2017.32,"p":12},{"t":2017.335,"p":5},{"t":2017.35,"p":8},{"t":2017.365,"p":4},{"t":2017.38,"p":10},{"t":2017.395,"p":3},{"t":2017.41,"p":6},{"t":2017.431,"p":15},{"t":2017.45,"p":4},{"t":2017.47,"p":2},{"t":2017.55,"p":3},{"t":2017.6,"p":4},{"t":2017.65,"p":2},{"t":2017.7,"p":5},{"t":2017.75,"p":3},{"t":2017.78,"p":6},
{"t":2017.814,"p":5},{"t":2017.825,"p":9},{"t":2017.835,"p":6},{"t":2017.845,"p":12},{"t":2017.853,"p":8},{"t":2017.86,"p":38},{"t":2017.868,"p":10},{"t":2017.877,"p":14},{"t":2017.886,"p":7},{"t":2017.895,"p":12},{"t":2017.905,"p":14},{"t":2017.915,"p":9},{"t":2017.925,"p":13},{"t":2017.935,"p":8},{"t":2017.945,"p":15},{"t":2017.955,"p":11},{"t":2017.965,"p":46},{"t":2017.975,"p":10},{"t":2017.985,"p":14},{"t":2017.995,"p":8},{"t":2018.003,"p":12},{"t":2018.01,"p":16},{"t":2018.02,"p":9},{"t":2018.03,"p":13},{"t":2018.04,"p":7},{"t":2018.05,"p":15},{"t":2018.06,"p":10},{"t":2018.07,"p":18},{"t":2018.08,"p":9},{"t":2018.09,"p":13},{"t":2018.1,"p":29},{"t":2018.11,"p":11},{"t":2018.12,"p":14},{"t":2018.13,"p":8},{"t":2018.138,"p":12},{"t":2018.145,"p":16},{"t":2018.155,"p":9},{"t":2018.165,"p":13},{"t":2018.175,"p":7},{"t":2018.183,"p":11},{"t":2018.191,"p":28},{"t":2018.2,"p":10},{"t":2018.21,"p":14},{"t":2018.22,"p":8},{"t":2018.23,"p":12},{"t":2018.24,"p":13},{"t":2018.25,"p":7},{"t":2018.26,"p":10},{"t":2018.27,"p":6},{"t":2018.281,"p":19},{"t":2018.29,"p":5},{"t":2018.3,"p":8},{"t":2018.311,"p":4},{"t":2018.34,"p":3},{"t":2018.38,"p":2},{"t":2018.42,"p":4},{"t":2018.46,"p":2},{"t":2018.5,"p":3},{"t":2018.56,"p":2},{"t":2018.6,"p":4},
{"t":2018.643,"p":4},{"t":2018.655,"p":7},{"t":2018.665,"p":3},{"t":2018.677,"p":6},{"t":2018.69,"p":9},{"t":2018.7,"p":5},{"t":2018.71,"p":8},{"t":2018.72,"p":10},{"t":2018.73,"p":6},{"t":2018.74,"p":9},{"t":2018.75,"p":4},{"t":2018.76,"p":8},{"t":2018.77,"p":11},{"t":2018.78,"p":6},{"t":2018.795,"p":12},{"t":2018.805,"p":7},{"t":2018.815,"p":10},{"t":2018.825,"p":5},{"t":2018.835,"p":9},{"t":2018.845,"p":12},{"t":2018.855,"p":7},{"t":2018.87,"p":14},{"t":2018.88,"p":9},{"t":2018.89,"p":12},{"t":2018.9,"p":8},{"t":2018.914,"p":19},{"t":2018.925,"p":10},{"t":2018.935,"p":7},{"t":2018.945,"p":13},{"t":2018.955,"p":9},{"t":2018.965,"p":11},{"t":2018.975,"p":6},{"t":2018.985,"p":10},{"t":2018.995,"p":8},{"t":2019.005,"p":12},{"t":2019.015,"p":7},{"t":2019.025,"p":10},{"t":2019.035,"p":5},{"t":2019.045,"p":9},{"t":2019.055,"p":12},{"t":2019.065,"p":7},{"t":2019.075,"p":10},{"t":2019.085,"p":6},{"t":2019.095,"p":11},{"t":2019.11,"p":15},{"t":2019.12,"p":8},{"t":2019.13,"p":12},{"t":2019.14,"p":7},{"t":2019.15,"p":11},{"t":2019.16,"p":9},{"t":2019.168,"p":14},{"t":2019.176,"p":23},{"t":2019.185,"p":8},{"t":2019.195,"p":12},{"t":2019.205,"p":7},{"t":2019.215,"p":11},{"t":2019.225,"p":9},{"t":2019.235,"p":13},{"t":2019.245,"p":7},{"t":2019.252,"p":10},{"t":2019.26,"p":23},{"t":2019.27,"p":8},{"t":2019.28,"p":11},{"t":2019.29,"p":10},{"t":2019.3,"p":6},{"t":2019.315,"p":9},{"t":2019.33,"p":4},{"t":2019.345,"p":7},{"t":2019.36,"p":3},{"t":2019.38,"p":15},{"t":2019.4,"p":4},{"t":2019.43,"p":2},{"t":2019.48,"p":1},{"t":2019.52,"p":2},{"t":2019.6,"p":1},{"t":2019.66,"p":2},
{"t":2019.728,"p":4},{"t":2019.74,"p":6},{"t":2019.755,"p":9},{"t":2019.765,"p":3},{"t":2019.78,"p":5},{"t":2019.79,"p":7},{"t":2019.8,"p":4},{"t":2019.815,"p":6},{"t":2019.83,"p":3},{"t":2019.845,"p":7},{"t":2019.86,"p":5},{"t":2019.87,"p":8},{"t":2019.88,"p":6},{"t":2019.89,"p":9},{"t":2019.9,"p":5},{"t":2019.91,"p":7},{"t":2019.92,"p":10},{"t":2019.93,"p":6},{"t":2019.94,"p":12},{"t":2019.95,"p":8},{"t":2019.96,"p":11},{"t":2019.97,"p":7},{"t":2019.98,"p":9}
]
},
"vconcat": [
{
"width": 994, "height": 237,
"title": {"text": "(a) Três Marias", "orient": "bottom", "font": "DejaVu Serif", "fontSize": 30, "fontWeight": "normal", "color": "#000000", "offset": 13, "dx": -7},
"resolve": {"scale": {"y": "independent"}, "axis": {"x": "independent"}},
"layer": [
{"data": {"name": "test"}, "mark": {"type": "rule", "strokeWidth": 3.5},
 "encoding": {
  "x": {"field": "t", "type": "quantitative", "scale": {"domain": [2011, 2019.99], "nice": false, "zero": false},
        "axis": {"orient": "top", "values": [2011,2012,2013,2014,2015,2016,2017,2018,2019], "labels": false, "title": null, "domainColor": "#262626", "domainWidth": 1.5, "tickColor": "#262626", "tickWidth": 2.5, "tickSize": -7}},
  "stroke": {"datum": "Período de teste", "type": "nominal", "scale": {"domain": ["Período de teste"], "range": ["#ffa64d"]},
        "legend": {"orient": "none", "legendX": 539, "legendY": -70, "title": null, "symbolType": "M-1,-0.6H1V0.6H-1Z", "symbolSize": 2116, "symbolFillColor": "#ffa64d", "symbolStrokeColor": "#ffa64d", "symbolStrokeWidth": 0, "symbolOpacity": 1, "labelFont": "Liberation Sans", "labelFontSize": 27, "labelFontWeight": "bold", "labelColor": "#000000", "labelOffset": 6, "labelLimit": 400}}
 }},
{"data": {"name": "pa"}, "mark": {"type": "rule", "strokeWidth": 1.4},
 "encoding": {
  "x": {"field": "t", "type": "quantitative", "axis": null},
  "y": {"field": "p", "type": "quantitative", "scale": {"domain": [0, 100], "reverse": true, "nice": false},
        "axis": {"orient": "right", "values": [0,20,40,60,80,100], "title": "Precipitação [mm]", "domainColor": "#ff0000", "domainWidth": 3, "tickColor": "#ff0000", "tickWidth": 3, "tickSize": 8, "labelColor": "#ff0000", "labelFont": "Liberation Sans", "labelFontSize": 23, "labelFontWeight": "bold", "labelPadding": 8, "titleColor": "#ff0000", "titleFont": "Liberation Sans", "titleFontSize": 26, "titleFontWeight": "bold", "titlePadding": 24}},
  "y2": {"datum": 0},
  "color": {"datum": "Precipitação", "type": "nominal", "scale": {"domain": ["Precipitação"], "range": ["#ff0000"]},
        "legend": {"orient": "none", "legendX": 311, "legendY": -70, "title": null, "symbolType": "M-1,-0.6H1V0.6H-1Z", "symbolSize": 2116, "symbolFillColor": "#ff0000", "symbolStrokeColor": "#ff0000", "symbolStrokeWidth": 0, "symbolOpacity": 1, "labelFont": "Liberation Sans", "labelFontSize": 27, "labelFontWeight": "bold", "labelColor": "#000000", "labelOffset": 6, "labelLimit": 400}}
 }},
{"data": {"name": "fa"}, "mark": {"type": "line", "strokeWidth": 3.8, "color": "#0033cc"},
 "encoding": {
  "x": {"field": "t", "type": "quantitative",
        "axis": {"orient": "bottom", "values": [2011,2012,2013,2014,2015,2016,2017,2018,2019], "format": "d", "title": "Ano", "domainColor": "#262626", "domainWidth": 3, "tickColor": "#262626", "tickWidth": 2.5, "tickSize": -8, "labelColor": "#262626", "labelFont": "Liberation Sans", "labelFontSize": 23, "labelFontWeight": "bold", "labelPadding": 21, "labelFlush": false, "labelOverlap": false, "titleColor": "#262626", "titleFont": "Liberation Sans", "titleFontSize": 26, "titleFontWeight": "bold", "titlePadding": 10}},
  "y": {"field": "v", "type": "quantitative", "scale": {"domain": [0, 10000], "nice": false},
        "axis": {"orient": "left", "values": [0,2000,4000,6000,8000,10000], "labelExpr": "replace(format(datum.value, ','), ',', '.')", "title": "Vazão [m³/s]", "domainColor": "#0033cc", "domainWidth": 3, "tickColor": "#0033cc", "tickWidth": 3, "tickSize": -9, "labelColor": "#0033cc", "labelFont": "Liberation Sans", "labelFontSize": 23, "labelFontWeight": "bold", "labelPadding": 15, "titleColor": "#0033cc", "titleFont": "Liberation Sans", "titleFontSize": 26, "titleFontWeight": "bold", "titlePadding": 11}},
  "strokeDash": {"datum": "Vazão", "type": "nominal", "scale": {"domain": ["Vazão"], "range": [[1, 0]]},
        "legend": {"orient": "none", "legendX": 168, "legendY": -70, "title": null, "symbolType": "stroke", "symbolSize": 2116, "symbolStrokeWidth": 3.5, "symbolStrokeColor": "#0033cc", "labelFont": "Liberation Sans", "labelFontSize": 27, "labelFontWeight": "bold", "labelColor": "#000000", "labelOffset": 1}}
 }}
]
},
{
"width": 994, "height": 237,
"title": {"text": "(b) Tucuruí", "orient": "bottom", "font": "DejaVu Serif", "fontSize": 30, "fontWeight": "normal", "color": "#000000", "offset": 13, "dx": -7},
"resolve": {"scale": {"y": "independent"}, "axis": {"x": "independent"}},
"layer": [
{"data": {"name": "test"}, "mark": {"type": "rule", "strokeWidth": 3.5},
 "encoding": {
  "x": {"field": "t", "type": "quantitative", "scale": {"domain": [2011, 2019.99], "nice": false, "zero": false},
        "axis": {"orient": "top", "values": [2011,2012,2013,2014,2015,2016,2017,2018,2019], "labels": false, "title": null, "domainColor": "#262626", "domainWidth": 1.5, "tickColor": "#262626", "tickWidth": 2.5, "tickSize": -7}},
  "stroke": {"datum": "Período de teste", "type": "nominal", "scale": {"domain": ["Período de teste"], "range": ["#ffa64d"]}}
 }},
{"data": {"name": "pb"}, "mark": {"type": "rule", "strokeWidth": 1.4},
 "encoding": {
  "x": {"field": "t", "type": "quantitative", "axis": null},
  "y": {"field": "p", "type": "quantitative", "scale": {"domain": [0, 100], "reverse": true, "nice": false},
        "axis": {"orient": "right", "values": [0,20,40,60,80,100], "title": "Precipitação [mm]", "domainColor": "#ff0000", "domainWidth": 3, "tickColor": "#ff0000", "tickWidth": 3, "tickSize": 8, "labelColor": "#ff0000", "labelFont": "Liberation Sans", "labelFontSize": 23, "labelFontWeight": "bold", "labelPadding": 8, "titleColor": "#ff0000", "titleFont": "Liberation Sans", "titleFontSize": 26, "titleFontWeight": "bold", "titlePadding": 24}},
  "y2": {"datum": 0},
  "color": {"datum": "Precipitação", "type": "nominal", "scale": {"domain": ["Precipitação"], "range": ["#ff0000"]}}
 }},
{"data": {"name": "fb"}, "mark": {"type": "line", "strokeWidth": 3.8, "color": "#0033cc"},
 "encoding": {
  "x": {"field": "t", "type": "quantitative",
        "axis": {"orient": "bottom", "values": [2011,2012,2013,2014,2015,2016,2017,2018,2019], "format": "d", "title": "Ano", "domainColor": "#262626", "domainWidth": 3, "tickColor": "#262626", "tickWidth": 2.5, "tickSize": -8, "labelColor": "#262626", "labelFont": "Liberation Sans", "labelFontSize": 23, "labelFontWeight": "bold", "labelPadding": 21, "labelFlush": false, "labelOverlap": false, "titleColor": "#262626", "titleFont": "Liberation Sans", "titleFontSize": 26, "titleFontWeight": "bold", "titlePadding": 10}},
  "y": {"field": "v", "type": "quantitative", "scale": {"domain": [0, 70000], "nice": false},
        "axis": {"orient": "left", "values": [0,14000,28000,42000,56000,70000], "labelExpr": "replace(format(datum.value, ','), ',', '.')", "title": "Vazão [m³/s]", "domainColor": "#0033cc", "domainWidth": 3, "tickColor": "#0033cc", "tickWidth": 3, "tickSize": -9, "labelColor": "#0033cc", "labelFont": "Liberation Sans", "labelFontSize": 23, "labelFontWeight": "bold", "labelPadding": 15, "titleColor": "#0033cc", "titleFont": "Liberation Sans", "titleFontSize": 26, "titleFontWeight": "bold", "titlePadding": 11}},
  "strokeDash": {"datum": "Vazão", "type": "nominal", "scale": {"domain": ["Vazão"], "range": [[1, 0]]}}
 }}
]
}
]
}
